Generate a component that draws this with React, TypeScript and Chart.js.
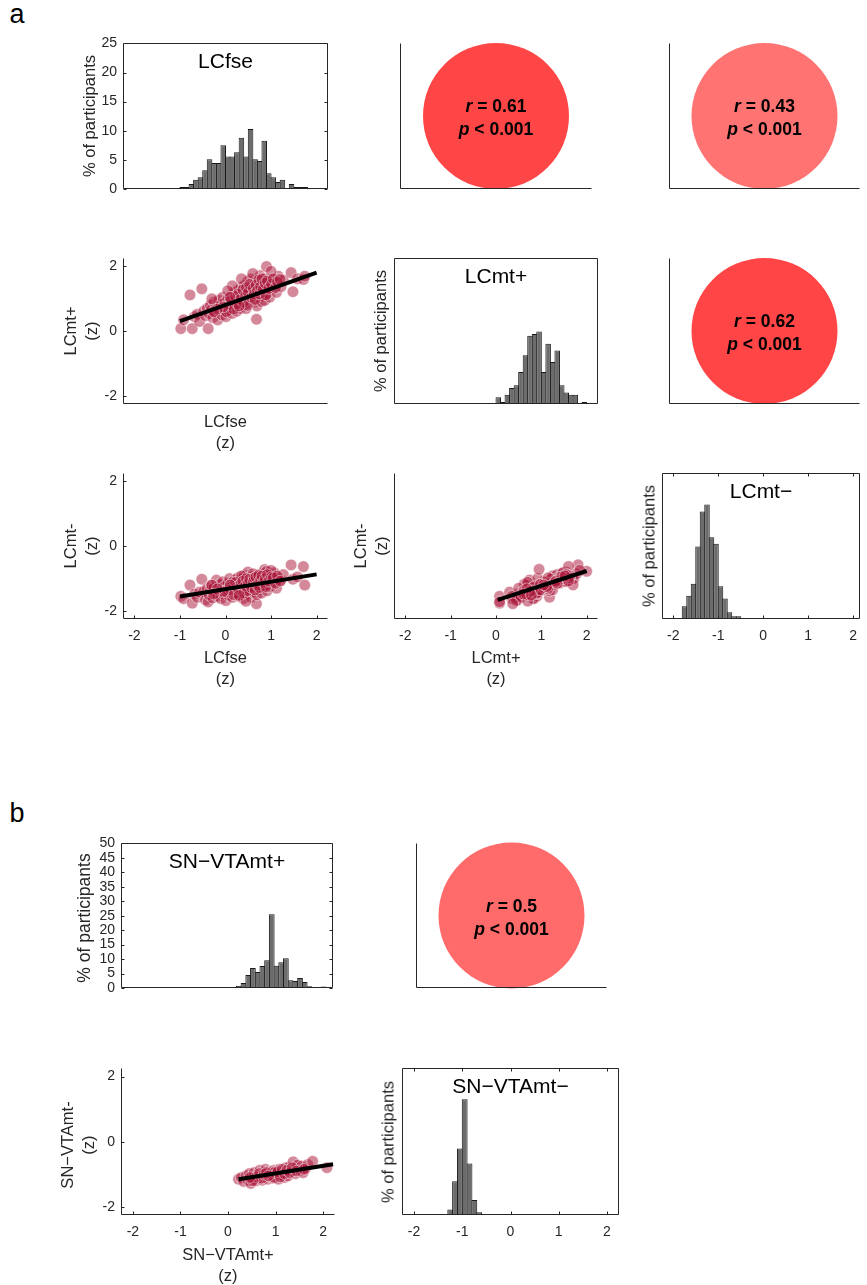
import React, { useEffect, useRef } from 'react';
import { Chart, registerables } from 'chart.js';
Chart.register(...registerables);

const FONT = "'Liberation Sans', Arial, Helvetica, sans-serif";
const INK = '#262626';

// ---------------- data ----------------
const zTickValues = [-2, -1, 0, 1, 2];
const zTickValuesY = [-2, 0, 2];
const pctTicks25 = [0, 5, 10, 15, 20, 25];
const pctTicks50 = [0, 5, 10, 15, 20, 25, 30, 35, 40, 45, 50];

const binWidth = 0.1;
const lcfseBinStart = -1.0;
const lcfsePct = [0.34, 0.34, 0.86, 1.6, 2.0, 3.2, 5.1, 4.45, 4.45, 7.5, 5.6, 5.6, 6.3, 8.8, 5.6, 10.3, 5.1, 4.8, 8.3, 2.7, 2.0, 1.2, 1.6, 0, 0.86, 0.34, 0.34, 0.34];
const lcmtPlusBinStart = 0.0;
const lcmtPlusPct = [1.14, 0.34, 1.6, 2.75, 3.2, 5.5, 8.35, 11.7, 12.0, 12.4, 5.5, 10.3, 7.2, 9.15, 3.2, 1.95, 1.6, 1.6, 0, 0.34];
const lcmtMinusBinStart = -1.8;
const lcmtMinusPct = [2.17, 4.0, 6.05, 12.4, 18.4, 19.6, 14.0, 12.9, 5.6, 3.5, 1.14, 0.46, 0.46];
const snvtaPlusBinStart = 0.2;
const snvtaPlusPct = [0.8, 1.7, 4.5, 6.9, 5.5, 7.6, 9.6, 25.5, 7.7, 8.9, 10.3, 2.7, 2.4, 3.5, 2.1, 0.57, 0.2, 0.1, 0.5];
const snvtaMinusBinStart = -1.3;
const snvtaMinusPct = [1.9, 11.5, 22.6, 39.4, 17.5, 5.1, 0.9, 0.3];

// per-participant z-scores (panel a)
const lcfse = [-0.98, -0.92, -0.78, -0.73, -0.68, -0.62, -0.57, -0.52, -0.48, -0.44, -0.40, -0.38, -0.36, -0.33, -0.31, -0.28, -0.25, -0.22, -0.20, -0.17, -0.15, -0.12, -0.10, -0.08, -0.06, -0.04, -0.02, 0.01, 0.03, 0.05, 0.07, 0.09, 0.11, 0.13, 0.15, 0.17, 0.19, 0.21, 0.23, 0.25, 0.27, 0.29, 0.31, 0.32, 0.34, 0.36, 0.37, 0.39, 0.41, 0.43, 0.45, 0.47, 0.49, 0.51, 0.52, 0.54, 0.55, 0.56, 0.68, 0.58, 0.59, 0.62, 0.64, 0.66, 0.68, 0.69, 0.72, 0.74, 0.76, 0.78, 0.79, 0.81, 0.82, 0.84, 0.85, 0.86, 0.88, 0.90, 0.91, 0.94, 0.97, 0.99, 1.03, 1.07, 1.12, 1.16, 1.22, 1.27, 1.44, 1.48, 1.58, 1.71, 1.74, 0.35, 0.60, 0.15, 0.45, 0.05, 1.00, -0.30,
  0.02, 0.08, 0.12, 0.18, 0.22, 0.26, 0.28, 0.33, 0.38, 0.40, 0.44, 0.46, 0.48, 0.50, 0.53, 0.57, 0.61, 0.63, 0.65, 0.67, 0.70, 0.73, 0.75, 0.77, 0.80, 0.83, 0.87, 0.89, 0.92, 0.95, 1.01, 1.05, 1.10, 1.14, 1.20, -0.05, -0.18, -0.26, 0.10, 0.30];
const lcmtPlus = [0.08, 0.35, 1.12, 0.08, 0.45, 0.52, 0.30, 1.31, 0.62, 0.48, 0.71, 0.08, 0.55, 0.80, 0.66, 0.42, 0.90, 0.58, 0.74, 0.35, 0.96, 0.62, 0.84, 0.50, 1.05, 0.70, 0.88, 0.45, 0.78, 1.00, 0.64, 0.92, 0.72, 1.12, 0.55, 0.86, 1.20, 0.76, 0.98, 0.62, 1.26, 0.90, 1.05, 0.70, 1.35, 0.95, 1.15, 0.82, 1.42, 1.00, 1.22, 0.88, 1.55, 1.08, 1.30, 0.95, 1.62, 1.18, 0.37, 1.40, 1.02, 1.25, 0.90, 1.50, 1.12, 0.78, 1.35, 1.05, 1.72, 1.20, 0.92, 1.45, 1.08, 1.62, 1.28, 0.95, 1.55, 2.00, 1.18, 1.40, 1.05, 1.60, 1.30, 1.48, 1.20, 1.70, 1.38, 1.58, 1.81, 1.22, 1.62, 1.60, 1.70, 1.62, 1.78, 1.40, 0.70, 1.25, 1.85, 1.00,
  0.60, 0.82, 0.95, 0.68, 1.08, 0.85, 1.15, 0.98, 1.28, 0.90, 1.10, 1.35, 0.80, 1.20, 1.45, 1.05, 1.32, 1.15, 0.98, 1.42, 1.25, 1.58, 1.15, 1.38, 1.62, 1.30, 1.48, 1.12, 1.55, 1.32, 1.45, 1.62, 1.35, 1.52, 1.60, 0.75, 0.68, 0.60, 1.05, 0.78];
const lcmtMinus = [-1.55, -1.62, -1.20, -1.76, -1.48, -1.58, -1.42, -1.02, -1.40, -1.66, -1.30, -1.72, -1.50, -1.35, -1.22, -1.60, -1.28, -1.45, -1.05, -1.55, -1.38, -1.18, -1.62, -1.30, -1.10, -1.48, -1.25, -1.68, -1.35, -1.15, -1.52, -1.00, -1.40, -1.22, -1.58, -1.30, -1.05, -1.45, -1.18, -1.36, -0.98, -1.55, -1.28, -1.12, -1.02, -1.40, -1.20, -1.62, -0.90, -1.32, -1.10, -1.48, -0.80, -1.25, -1.05, -1.38, -0.95, -1.58, -1.78, -1.15, -1.30, -0.92, -1.42, -1.08, -1.22, -1.50, -0.88, -1.35, -1.00, -1.15, -1.45, -0.85, -1.28, -0.95, -1.20, -0.72, -1.10, -0.78, -1.38, -0.98, -1.25, -0.90, -1.12, -0.82, -1.30, -1.00, -1.05, -0.88, -0.58, -1.02, -0.95, -0.63, -1.20, -0.92, -0.85, -1.12, -1.70, -1.35, -0.75, -1.20,
  -1.42, -1.28, -1.35, -1.50, -1.12, -1.25, -1.32, -1.18, -1.08, -1.45, -1.22, -1.00, -1.38, -1.15, -1.02, -1.28, -1.10, -0.98, -1.35, -0.95, -1.20, -0.90, -1.28, -1.05, -0.92, -1.12, -1.00, -1.25, -0.88, -1.08, -0.95, -0.98, -1.15, -0.92, -1.08, -1.40, -1.32, -1.48, -1.20, -1.52];

// per-participant z-scores (panel b)
const snvtaPlus = [0.22, 0.28, 0.33, 0.38, 0.42, 0.45, 0.48, 0.50, 0.53, 0.55, 0.58, 0.62, 0.64, 0.67, 0.70, 0.72, 0.74, 0.77, 0.79, 0.82, 0.84, 0.86, 0.88, 0.91, 0.92, 0.93, 0.94, 0.95, 0.95, 0.96, 0.97, 0.98, 0.99, 0.99, 1.03, 1.06, 1.08, 1.12, 1.15, 1.18, 1.21, 1.23, 1.26, 1.28, 1.33, 1.37, 1.40, 1.42, 1.46, 1.52, 1.55, 1.58, 1.63, 1.68, 1.78, 2.08,
  0.90, 0.92, 0.93, 0.94, 0.95, 0.96, 0.97, 0.98, 0.60, 0.66, 0.71, 0.76, 0.81, 0.85, 1.05, 1.10, 1.14, 1.19, 1.24, 1.30, 1.35, 1.44, 0.52, 0.46, 1.60];
const snvtaMinus = [-1.15, -1.10, -1.22, -1.05, -1.18, -0.98, -1.28, -1.08, -1.15, -0.95, -1.20, -1.02, -1.12, -0.88, -1.05, -1.18, -0.95, -1.10, -0.85, -1.02, -1.15, -0.92, -1.08, -0.98, -1.05, -0.90, -1.12, -1.00, -0.95, -1.06, -0.88, -1.02, -1.10, -0.93, -0.98, -1.15, -0.85, -1.02, -0.92, -1.10, -0.80, -0.95, -1.05, -0.78, -0.90, -0.62, -0.85, -0.98, -0.72, -0.88, -0.75, -0.95, -0.82, -0.70, -0.60, -0.80,
  -1.00, -0.95, -1.08, -0.92, -1.03, -0.97, -1.10, -0.94, -1.08, -0.98, -1.12, -1.00, -0.95, -1.05, -0.92, -1.08, -0.85, -0.98, -0.88, -0.95, -0.80, -0.90, -1.20, -1.10, -0.85];

// least-squares lines (end points)
const fitFseMtPlusX = [-1.0, 2.0];
const fitFseMtPlusY = [0.31, 1.81];
const fitFseMtMinusX = [-1.0, 2.0];
const fitFseMtMinusY = [-1.555, -0.87];
const fitMtPlusMtMinusX = [0.04, 2.0];
const fitMtPlusMtMinusY = [-1.66, -0.77];
const fitSnPlusSnMinusX = [0.22, 2.21];
const fitSnPlusSnMinusY = [-1.15, -0.69];

// correlation results
const corrR = ['0.61', '0.43', '0.62', '0.5'];
const corrP = ['< 0.001', '< 0.001', '< 0.001', '< 0.001'];

// ---------------- layout helpers ----------------
const ML = 46, MT = 14, MR = 10, MB = 30;

type Rect = { l: number; t: number; w: number; h: number };

function makeAxis(isX: boolean, min: number, max: number, tickVals: number[] | null) {
  const ax: any = {
    type: 'linear',
    position: isX ? 'bottom' : 'left',
    min, max, offset: false,
    grid: { display: false, drawTicks: false, tickLength: 0 },
    border: { display: false },
    ticks: {
      display: !!tickVals, autoSkip: false, maxRotation: 0, minRotation: 0,
      padding: isX ? 9 : 6, color: INK, font: { family: FONT, size: 14 },
      callback: (v: any) => String(v),
    },
    afterFit: (s: any) => { if (isX) s.height = MB; else s.width = ML; },
  };
  if (tickVals) ax.afterBuildTicks = (s: any) => { s.ticks = tickVals.map((v) => ({ value: v })); };
  return ax;
}

const matlabAxes = {
  id: 'matlabAxes',
  afterDatasetsDraw(chart: any, _a: any, o: any) {
    if (!o || !o.enabled) return;
    const { ctx, chartArea: a, scales } = chart;
    const L = Math.round(a.left) + 0.5, R = Math.round(a.right) - 0.5;
    const T = Math.round(a.top) + 0.5, B = Math.round(a.bottom) - 0.5;
    ctx.save();
    ctx.strokeStyle = o.color || INK;
    ctx.lineWidth = 1;
    ctx.beginPath();
    ctx.moveTo(L, T); ctx.lineTo(L, B); ctx.lineTo(R, B);
    if (o.box) { ctx.lineTo(R, T); ctx.lineTo(L, T); }
    ctx.stroke();
    const len = 3;
    ctx.beginPath();
    for (const v of o.xMarks || []) {
      const px = Math.round(scales.x.getPixelForValue(v)) + 0.5;
      ctx.moveTo(px, B); ctx.lineTo(px, B - len);
      if (o.box) { ctx.moveTo(px, T); ctx.lineTo(px, T + len); }
    }
    for (const v of o.yMarks || []) {
      const py = Math.round(scales.y.getPixelForValue(v)) + 0.5;
      ctx.moveTo(L, py); ctx.lineTo(L + len, py);
      if (o.box) { ctx.moveTo(R, py); ctx.lineTo(R - len, py); }
    }
    ctx.stroke();
    ctx.restore();
  },
};

function baseOptions(axesOpts: any, scales: any) {
  return {
    responsive: false, maintainAspectRatio: false, animation: false, events: [], devicePixelRatio: 1,
    layout: { autoPadding: false, padding: { left: 0, top: MT, right: MR, bottom: 0 } },
    plugins: { legend: { display: false }, tooltip: { enabled: false }, matlabAxes: axesOpts },
    scales,
  };
}

function histConfig(r: Rect, binStart: number, pct: number[], xMin: number, xMax: number, yMax: number, yTicks: number[] | null, xTicks: number[] | null) {
  const binPx = (r.w / (xMax - xMin)) * binWidth;
  const data = pct.map((y, i) => ({ x: binStart + (i + 0.5) * binWidth, y }));
  return {
    type: 'bar',
    data: { datasets: [{ data, backgroundColor: '#6c6c6c', borderColor: '#1a1a1a', borderWidth: 1, barPercentage: 1 + 1 / binPx, categoryPercentage: 1 }] },
    options: baseOptions(
      { enabled: true, box: true, xMarks: xTicks || [], yMarks: yTicks || [] },
      { x: makeAxis(true, xMin, xMax, xTicks), y: makeAxis(false, 0, yMax, yTicks) }
    ),
    plugins: [matlabAxes],
  };
}

function scatterConfig(xs: number[], ys: number[], fx: number[], fy: number[], xTicks: number[] | null, yTicks: number[] | null) {
  return {
    type: 'scatter',
    data: {
      datasets: [
        { data: fx.map((x, i) => ({ x, y: fy[i] })), showLine: true, borderColor: '#000', borderWidth: 4, pointRadius: 0, order: 0 },
        { data: xs.map((x, i) => ({ x, y: ys[i] })), pointRadius: 5.8, backgroundColor: 'rgba(170,20,55,0.5)', borderColor: 'rgba(255,255,255,0.6)', borderWidth: 0.8, order: 1 },
      ],
    },
    options: baseOptions(
      { enabled: true, box: false, xMarks: xTicks || [], yMarks: yTicks || [] },
      { x: makeAxis(true, -2.25, 2.25, xTicks), y: makeAxis(false, -2.25, 2.25, yTicks) }
    ),
    plugins: [matlabAxes],
  };
}

function circleConfig(color: string) {
  return {
    type: 'bubble',
    data: { datasets: [{ data: [{ x: 0.5, y: 0.5 }], radius: 73, backgroundColor: color, borderWidth: 0, clip: false }] },
    options: baseOptions(
      { enabled: true, box: false },
      { x: makeAxis(true, 0, 1, null), y: makeAxis(false, 0, 1, null) }
    ),
    plugins: [matlabAxes],
  };
}

function ChartCanvas({ rect, make }: { rect: Rect; make: () => any }) {
  const ref = useRef<HTMLCanvasElement | null>(null);
  const W = ML + rect.w + MR, H = MT + rect.h + MB;
  useEffect(() => {
    const c = new Chart(ref.current as HTMLCanvasElement, make());
    return () => c.destroy();
  }, []);
  return <canvas ref={ref} width={W} height={H} style={{ position: 'absolute', left: rect.l - ML, top: rect.t - MT, width: W, height: H }} />;
}

function HText({ x, baseline, size, lines, lh, bold, color }: any) {
  const L = lh || size * 1.2;
  const b0 = (L - 1.117 * size) / 2 + 0.905 * size;
  return (
    <div style={{ position: 'absolute', left: x, top: baseline - b0, transform: 'translateX(-50%)', fontFamily: FONT, fontSize: size, lineHeight: L + 'px', fontWeight: bold ? 'bold' : 'normal', whiteSpace: 'nowrap', textAlign: 'center', color: color || INK }}>
      {lines.map((s: any, i: number) => <div key={i}>{s}</div>)}
    </div>
  );
}

function VText({ cx, cy, size, lines, lh }: any) {
  return (
    <div style={{ position: 'absolute', left: cx, top: cy, transform: 'translate(-50%,-50%) rotate(-90deg)', fontFamily: FONT, fontSize: size, lineHeight: lh + 'px', whiteSpace: 'nowrap', textAlign: 'center', color: INK }}>
      {lines.map((s: string, i: number) => <div key={i}>{s}</div>)}
    </div>
  );
}

const R = {
  a11: { l: 123, t: 43, w: 205, h: 146 },
  a12: { l: 400, t: 43, w: 192, h: 146 },
  a13: { l: 669, t: 43, w: 191, h: 146 },
  a21: { l: 123, t: 258, w: 205, h: 146 },
  a22: { l: 394, t: 258, w: 204, h: 146 },
  a23: { l: 669, t: 258, w: 191, h: 146 },
  a31: { l: 123, t: 473, w: 205, h: 146 },
  a32: { l: 394, t: 473, w: 204, h: 146 },
  a33: { l: 662, t: 473, w: 198, h: 146 },
  b11: { l: 121, t: 843, w: 212, h: 145 },
  b12: { l: 416, t: 843, w: 191, h: 145 },
  b21: { l: 121, t: 1068, w: 214, h: 147 },
  b22: { l: 402, t: 1068, w: 217, h: 147 },
};

function RP({ x, top, i }: { x: number; top: number; i: number }) {
  return (
    <>
      <HText x={x} baseline={top + 70} size={17.5} bold color="#000" lines={[<span><i>r</i> = {corrR[i]}</span>]} />
      <HText x={x} baseline={top + 93} size={17.5} bold color="#000" lines={[<span><i>p</i> {corrP[i]}</span>]} />
    </>
  );
}

const cxOf = (r: Rect) => r.l + r.w / 2;
const cyOf = (r: Rect) => r.t + r.h / 2;

export default function App() {
  const pct = '% of participants';
  return (
    <div style={{ position: 'absolute', left: 0, top: 0, width: 867, height: 1285, overflow: 'hidden', background: '#fff' }}>
      <ChartCanvas rect={R.a11} make={() => histConfig(R.a11, lcfseBinStart, lcfsePct, -2.25, 2.25, 25, pctTicks25, null)} />
      <ChartCanvas rect={R.a12} make={() => circleConfig('#FF4646')} />
      <ChartCanvas rect={R.a13} make={() => circleConfig('#FF7373')} />
      <ChartCanvas rect={R.a21} make={() => scatterConfig(lcfse, lcmtPlus, fitFseMtPlusX, fitFseMtPlusY, null, zTickValuesY)} />
      <ChartCanvas rect={R.a22} make={() => histConfig(R.a22, lcmtPlusBinStart, lcmtPlusPct, -2.25, 2.25, 25, null, null)} />
      <ChartCanvas rect={R.a23} make={() => circleConfig('#FF4545')} />
      <ChartCanvas rect={R.a31} make={() => scatterConfig(lcfse, lcmtMinus, fitFseMtMinusX, fitFseMtMinusY, zTickValues, zTickValuesY)} />
      <ChartCanvas rect={R.a32} make={() => scatterConfig(lcmtPlus, lcmtMinus, fitMtPlusMtMinusX, fitMtPlusMtMinusY, zTickValues, null)} />
      <ChartCanvas rect={R.a33} make={() => histConfig(R.a33, lcmtMinusBinStart, lcmtMinusPct, -2.25, 2.15, 25, null, zTickValues)} />
      <ChartCanvas rect={R.b11} make={() => histConfig(R.b11, snvtaPlusBinStart, snvtaPlusPct, -2.25, 2.25, 50, pctTicks50, null)} />
      <ChartCanvas rect={R.b12} make={() => circleConfig('#FF6B6B')} />
      <ChartCanvas rect={R.b21} make={() => scatterConfig(snvtaPlus, snvtaMinus, fitSnPlusSnMinusX, fitSnPlusSnMinusY, zTickValues, zTickValuesY)} />
      <ChartCanvas rect={R.b22} make={() => histConfig(R.b22, snvtaMinusBinStart, snvtaMinusPct, -2.25, 2.25, 50, null, zTickValues)} />

      {/* panel letters */}
      <HText x={17} baseline={24} size={27} color="#000" lines={['a']} />
      <HText x={17} baseline={823} size={27} color="#000" lines={['b']} />

      {/* histogram titles */}
      <HText x={cxOf(R.a11)} baseline={R.a11.t + 24.5} size={21} color="#000" lines={['LCfse']} />
      <HText x={cxOf(R.a22)} baseline={R.a22.t + 24.5} size={21} color="#000" lines={['LCmt+']} />
      <HText x={cxOf(R.a33)} baseline={R.a33.t + 24.5} size={21} color="#000" lines={['LCmt\u2212']} />
      <HText x={cxOf(R.b11)} baseline={R.b11.t + 24.5} size={21} color="#000" lines={['SN\u2212VTAmt+']} />
      <HText x={cxOf(R.b22)} baseline={R.b22.t + 24.5} size={21} color="#000" lines={['SN\u2212VTAmt\u2212']} />

      {/* correlation texts */}
      <RP x={cxOf(R.a12)} top={R.a12.t} i={0} />
      <RP x={cxOf(R.a13)} top={R.a13.t} i={1} />
      <RP x={cxOf(R.a23)} top={R.a23.t} i={2} />
      <RP x={cxOf(R.b12)} top={R.b12.t} i={3} />

      {/* y labels */}
      <VText cx={89} cy={cyOf(R.a11)} size={16.5} lh={21} lines={[pct]} />
      <VText cx={380} cy={cyOf(R.a22)} size={16.5} lh={21} lines={[pct]} />
      <VText cx={648.5} cy={cyOf(R.a33)} size={16.5} lh={21} lines={[pct]} />
      <VText cx={84} cy={cyOf(R.b11) + 2} size={17.5} lh={21} lines={[pct]} />
      <VText cx={388} cy={cyOf(R.b22)} size={16.5} lh={21} lines={[pct]} />
      <VText cx={81} cy={cyOf(R.a21)} size={16.5} lh={21} lines={['LCmt+', '(z)']} />
      <VText cx={81} cy={cyOf(R.a31)} size={16.5} lh={21} lines={['LCmt-', '(z)']} />
      <VText cx={371} cy={cyOf(R.a32)} size={16.5} lh={21} lines={['LCmt-', '(z)']} />
      <VText cx={78} cy={cyOf(R.b21) + 3} size={16.5} lh={21} lines={['SN\u2212VTAmt-', '(z)']} />

      {/* x labels */}
      <HText x={cxOf(R.a21)} baseline={427} size={16.5} lh={21} lines={['LCfse', '(z)']} />
      <HText x={cxOf(R.a31)} baseline={663} size={16.5} lh={21} lines={['LCfse', '(z)']} />
      <HText x={cxOf(R.a32)} baseline={663} size={16.5} lh={21} lines={['LCmt+', '(z)']} />
      <HText x={cxOf(R.b21)} baseline={1260} size={16.5} lh={21} lines={['SN\u2212VTAmt+', '(z)']} />
    </div>
  );
}
